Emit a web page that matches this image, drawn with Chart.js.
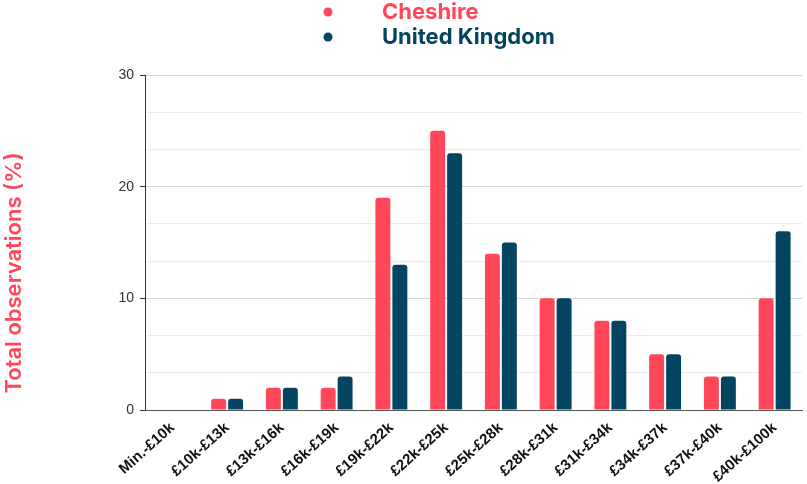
<!DOCTYPE html>
<html>
<head>
<meta charset="utf-8">
<script src="https://cdn.jsdelivr.net/npm/chart.js@4/dist/chart.umd.min.js"></script>
<style>
  html, body { margin: 0; padding: 0; background: #ffffff; }
  #wrap { position: relative; width: 807px; height: 484px; }
</style>
</head>
<body>
<div id="wrap"><canvas id="c" width="807" height="484"></canvas></div>
<script>
const categories = ["Min.-£10k", "£10k-£13k", "£13k-£16k", "£16k-£19k", "£19k-£22k", "£22k-£25k", "£25k-£28k", "£28k-£31k", "£31k-£34k", "£34k-£37k", "£37k-£40k", "£40k-£100k"];
const cheshire = [0, 1, 2, 2, 19, 25, 14, 10, 8, 5, 3, 10];
const unitedKingdom = [0, 1, 2, 3, 13, 23, 15, 10, 8, 5, 3, 16];
const seriesNames = ["Cheshire", "United Kingdom"];
const yTitle = "Total observations (%)";
const yMax = 30;
const yMajorStep = 10;

const RED = '#ff4759';
const BLUE = '#034461';

function isMajor(v) {
  return Math.abs(v / yMajorStep - Math.round(v / yMajorStep)) < 1e-6;
}

const legendPlugin = {
  id: 'stackedLegend',
  afterDraw(chart) {
    const ctx = chart.ctx;
    ctx.save();
    chart.data.datasets.forEach((ds, i) => {
      const y = 12 + i * 25;
      ctx.fillStyle = ds.backgroundColor;
      ctx.beginPath();
      ctx.arc(328, y, 4.5, 0, Math.PI * 2);
      ctx.fill();
      ctx.font = '700 22px Inter, "Open Sans", sans-serif';
      ctx.textBaseline = 'middle';
      ctx.textAlign = 'left';
      ctx.fillText(ds.label, 382, y);
    });
    ctx.restore();
  }
};

const yTitlePlugin = {
  id: 'yTitle',
  afterDraw(chart) {
    const ctx = chart.ctx;
    ctx.save();
    ctx.translate(14, 273);
    ctx.rotate(-Math.PI / 2);
    ctx.fillStyle = RED;
    ctx.font = '600 22px Inter, "Open Sans", sans-serif';
    ctx.textAlign = 'center';
    ctx.textBaseline = 'middle';
    ctx.fillText(yTitle, 0, 0);
    ctx.restore();
  }
};

new Chart(document.getElementById('c'), {
  type: 'bar',
  data: {
    labels: categories,
    datasets: [
      { label: seriesNames[0], data: cheshire, backgroundColor: RED, borderRadius: { topLeft: 3, topRight: 3 }, borderSkipped: 'bottom' },
      { label: seriesNames[1], data: unitedKingdom, backgroundColor: BLUE, borderRadius: { topLeft: 3, topRight: 3 }, borderSkipped: 'bottom' }
    ]
  },
  options: {
    responsive: false,
    animation: false,
    devicePixelRatio: 1,
    layout: { padding: { top: 75, right: 5, bottom: 0, left: 0 } },
    datasets: { bar: { categoryPercentage: 0.62, barPercentage: 0.88 } },
    plugins: {
      legend: { display: false },
      tooltip: { enabled: false }
    },
    scales: {
      x: {
        afterFit(scale) { scale.height = 74; },
        grid: { display: false, drawTicks: false },
        border: { color: '#555555', width: 1 },
        ticks: {
          color: '#111111',
          font: { family: '"Liberation Sans", Arial, sans-serif', size: 15, weight: 'bold' },
          minRotation: 42,
          maxRotation: 42,
          autoSkip: false,
          padding: 9
        }
      },
      y: {
        min: 0,
        max: yMax,
        afterBuildTicks(scale) {
          const t = [];
          for (let k = 0; k <= 9; k++) t.push({ value: k * yMajorStep / 3 });
          scale.ticks = t;
        },
        afterFit(scale) { scale.width = 145; },
        border: { color: '#333333', width: 1 },
        grid: {
          color: (c) => isMajor(c.tick.value) ? '#d6d6d6' : '#ececec',
          tickColor: (c) => isMajor(c.tick.value) ? '#333333' : 'rgba(0,0,0,0)',
          tickLength: 5,
          lineWidth: 1
        },
        ticks: {
          color: '#333333',
          font: { family: '"Liberation Sans", Arial, sans-serif', size: 14 },
          padding: 6,
          callback: (v) => isMajor(v) ? String(Math.round(v)) : ''
        },
        title: { display: false }
      }
    }
  },
  plugins: [legendPlugin, yTitlePlugin]
});
</script>
</body>
</html>
